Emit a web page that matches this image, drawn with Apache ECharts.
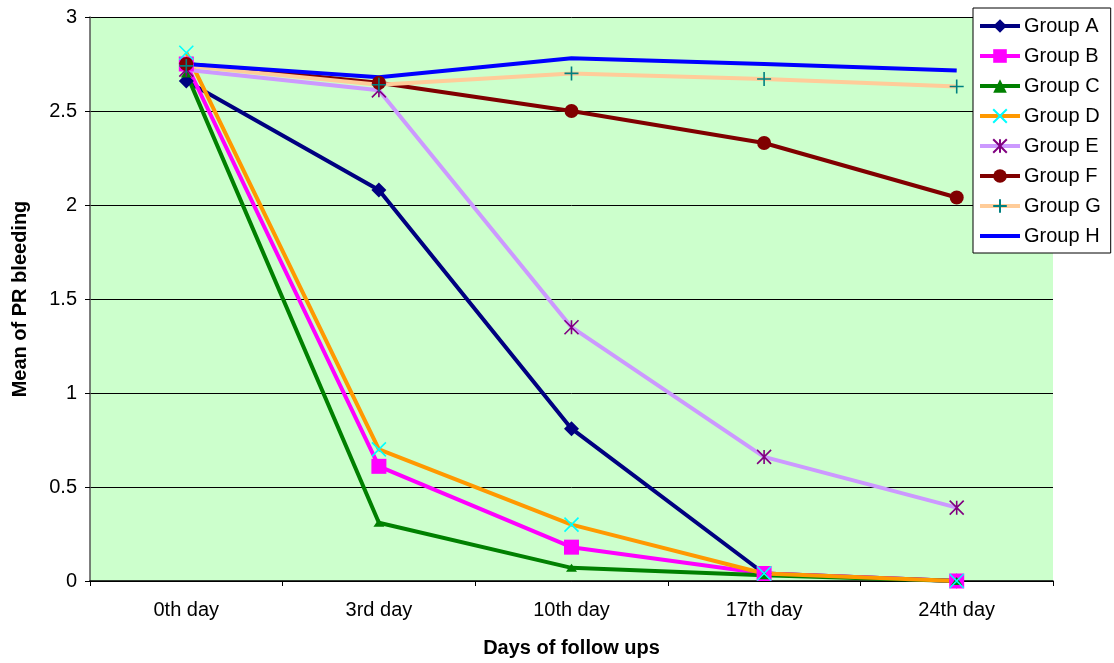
<!DOCTYPE html>
<html>
<head>
<meta charset="utf-8">
<script src="https://cdn.jsdelivr.net/npm/echarts@6/dist/echarts.min.js"></script>
<style>
  html, body { margin: 0; padding: 0; background: #ffffff; }
  #chart { width: 1114px; height: 663px; }
</style>
</head>
<body>
<div id="chart"></div>
<script>
// Follow-up days
const days = ['0th day', '3rd day', '10th day', '17th day', '24th day'];

// Mean PR bleeding per group
const groupA = [2.66, 2.08, 0.81, 0.04, 0];
const groupB = [2.75, 0.61, 0.18, 0.04, 0];
const groupC = [2.70, 0.31, 0.07, 0.03, 0];
const groupD = [2.81, 0.70, 0.30, 0.04, 0];
const groupE = [2.72, 2.61, 1.35, 0.66, 0.39];
const groupF = [2.75, 2.65, 2.50, 2.33, 2.04];
const groupG = [2.74, 2.64, 2.70, 2.67, 2.63];
const groupH = [2.75, 2.68, 2.78, 2.75, 2.715];

const yTicks = { min: 0, max: 3, interval: 0.5 };

const FONT = '"Liberation Sans", Arial, sans-serif';

// Stroked marker outlines
const SYM_X = 'path://M0 0 L10 10 M10 0 L0 10';
const SYM_STAR = 'path://M0 0 L10 10 M10 0 L0 10 M5 0 L5 10';
const SYM_PLUS = 'path://M5 0 L5 10 M0 5 L10 5';

function lineSeries(name, data, lineColor, opts) {
  return Object.assign({
    name: name,
    type: 'line',
    data: data,
    lineStyle: { color: lineColor, width: 4 },
    itemStyle: { color: lineColor },
    symbol: 'none',
    symbolSize: 12,
    showSymbol: true,
    emphasis: { disabled: true },
    animation: false,
    z: 2
  }, opts || {});
}

const series = [
  lineSeries('Group A', groupA, '#000080', { symbol: 'diamond', symbolSize: 15 }),
  lineSeries('Group B', groupB, '#FF00FF', { symbol: 'rect', symbolSize: 15 }),
  lineSeries('Group C', groupC, '#008000', { symbol: 'triangle', symbolSize: [11, 8] }),
  lineSeries('Group D', groupD, '#FF9900', {
    symbol: SYM_X, symbolSize: 14,
    itemStyle: { color: 'none', borderColor: '#00FFFF', borderWidth: 1.6 }
  }),
  lineSeries('Group E', groupE, '#CC99FF', {
    symbol: SYM_STAR, symbolSize: 14,
    itemStyle: { color: 'none', borderColor: '#800080', borderWidth: 1.6 }
  }),
  lineSeries('Group F', groupF, '#800000', { symbol: 'circle', symbolSize: 14 }),
  lineSeries('Group G', groupG, '#FFCC99', {
    symbol: SYM_PLUS, symbolSize: 14,
    itemStyle: { color: 'none', borderColor: '#008080', borderWidth: 1.6 }
  }),
  lineSeries('Group H', groupH, '#0000FF', { symbol: 'none' })
];

// Legend entries; the plain line entry gets no marker
const legendItems = series.map(s =>
  s.symbol === 'none' ? { name: s.name, itemStyle: { opacity: 0 } } : { name: s.name }
);

const chart = echarts.init(document.getElementById('chart'), null, { renderer: 'canvas' });

chart.setOption({
  backgroundColor: '#ffffff',
  animation: false,
  textStyle: { fontFamily: FONT },
  grid: {
    left: 90, top: 17, right: 61, bottom: 82,
    show: true,
    backgroundColor: '#CCFFCC',
    borderWidth: 0
  },
  legend: {
    orient: 'vertical',
    left: 973, top: 8,
    padding: [8, 10, 7, 5],
    itemWidth: 40,
    itemHeight: 17,
    itemGap: 10,
    backgroundColor: '#ffffff',
    borderColor: '#000000',
    borderWidth: 1,
    lineStyle: { width: 4 },
    textStyle: { fontFamily: FONT, fontSize: 20, color: '#000000', padding: [0, 0, 0, -1] },
    data: legendItems
  },
  xAxis: {
    type: 'category',
    data: days,
    boundaryGap: true,
    name: 'Days of follow ups',
    nameLocation: 'middle',
    nameGap: 57,
    nameTextStyle: { fontFamily: FONT, fontSize: 20, fontWeight: 'bold', color: '#000000' },
    axisLine: { lineStyle: { color: '#000000', width: 1.5 } },
    axisTick: { show: true, length: 5, lineStyle: { color: '#000000' } },
    axisLabel: { fontFamily: FONT, fontSize: 20, color: '#000000', margin: 19 },
    splitLine: { show: false }
  },
  yAxis: {
    type: 'value',
    min: yTicks.min,
    max: yTicks.max,
    interval: yTicks.interval,
    name: 'Mean of PR bleeding',
    nameLocation: 'middle',
    nameGap: 60,
    nameTextStyle: { fontFamily: FONT, fontSize: 20, fontWeight: 'bold', color: '#000000' },
    axisLine: { show: true, lineStyle: { color: '#555555', width: 1.5 } },
    axisTick: { show: true, length: 5, lineStyle: { color: '#000000' } },
    axisLabel: { fontFamily: FONT, fontSize: 20, color: '#000000', margin: 13 },
    splitLine: { show: true, lineStyle: { color: '#000000', width: 1 } }
  },
  series: series
});
</script>
</body>
</html>
